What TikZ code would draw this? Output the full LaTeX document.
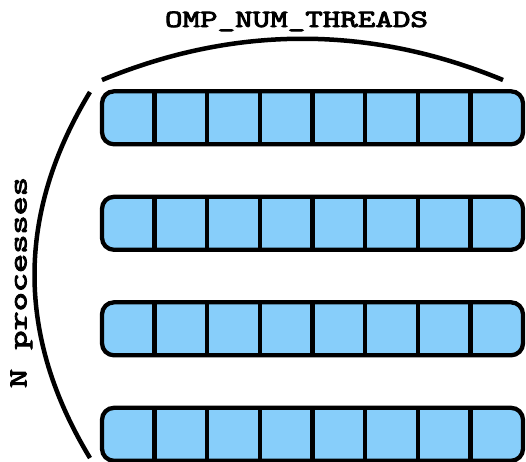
\documentclass[tikz,border=0pt]{standalone}
\usepackage{fontspec}
\usetikzlibrary{calc}
\newfontfamily\courb[FakeBold=3]{Latin Modern Mono}
\definecolor{cellblue}{RGB}{135,206,250}
\begin{document}
\begin{tikzpicture}[x=1pt,y=-1pt,
  rowbox/.style={draw=black, line width=4.3pt, fill=cellblue, rounded corners=12pt,
    minimum width=421pt, minimum height=53pt, inner sep=0pt, outer sep=0pt, anchor=north west},
  divider/.style={draw=black, line width=4.3pt},
  brace/.style={draw=black, line width=4.5pt},
  lbl/.style={font=\courb, inner sep=0pt, outer sep=0pt}]
\useasboundingbox (0,0) rectangle (526,461);
\foreach \i/\y in {1/91.3,2/196.8,3/302.3,4/407.8}{
  \node[rowbox] (r\i) at (102,\y) {};
  \foreach \k in {1,...,7}{
    \draw[divider] ($(r\i.north west)!\k/8!(r\i.north east)$) -- ($(r\i.south west)!\k/8!(r\i.south east)$);
  }
}
\coordinate (ta) at (102,80);
\coordinate (tb) at (503,80);
\draw[brace] (ta) .. controls (235,25) and (370,25) .. (tb);
\coordinate (la) at (90,92);
\coordinate (lb) at (90,458);
\draw[brace] (la) .. controls (16,214) and (16,336) .. (lb);
\node[lbl, anchor=base west] (omp) at (165,27) {\resizebox{263pt}{15.5pt}{OMP\_NUM\_THREADS}};
\node[lbl, rotate=90, anchor=base west] (np) at (26.5,388) {\resizebox{211pt}{16pt}{N processes}};
\end{tikzpicture}
\end{document}
